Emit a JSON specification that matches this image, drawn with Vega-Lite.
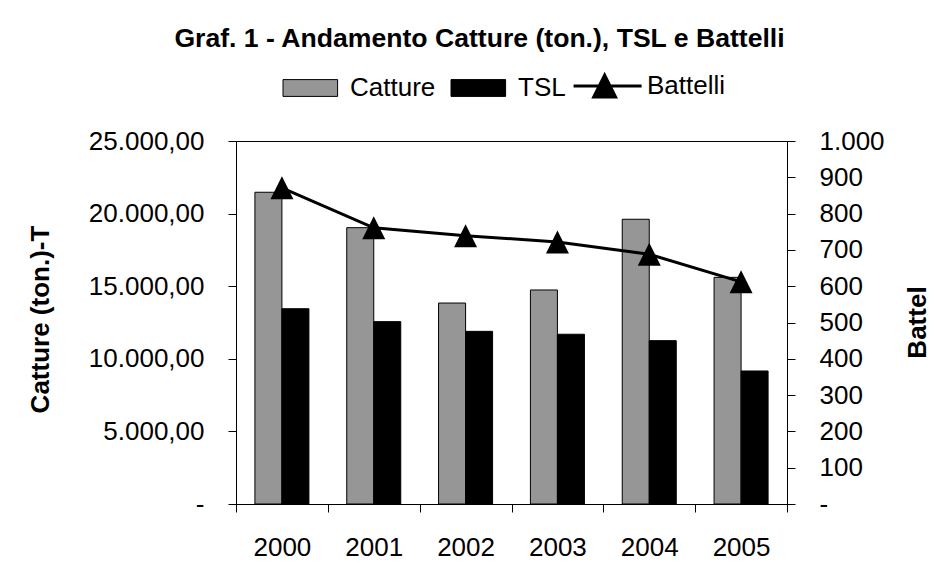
{
  "$schema": "https://vega.github.io/schema/vega-lite/v6.json",
  "width": 551,
  "height": 363,
  "autosize": "none",
  "padding": {"left": 236, "top": 141, "right": 153, "bottom": 78},
  "background": "white",
  "config": {
    "font": "Liberation Sans",
    "view": {"stroke": "black", "strokeWidth": 1},
    "axis": {
      "domainColor": "black", "tickColor": "black", "labelColor": "black", "titleColor": "black",
      "labelFont": "Liberation Sans", "titleFont": "Liberation Sans",
      "labelFontSize": 26, "titleFontSize": 26, "titleFontWeight": "bold",
      "labelFontWeight": "normal", "grid": false, "tickSize": 8, "domainWidth": 1, "tickWidth": 1
    }
  },
  "title": {
    "text": "Graf. 1 - Andamento Catture (ton.), TSL e Battelli",
    "font": "Liberation Sans", "fontSize": 26.6, "fontWeight": "bold", "color": "black",
    "anchor": "middle", "dx": -32, "offset": 20
  },
  "datasets": {
    "barre": [
      {"anno": "2000", "serie": "Catture", "valore": 21470},
      {"anno": "2000", "serie": "TSL", "valore": 13450},
      {"anno": "2001", "serie": "Catture", "valore": 19030},
      {"anno": "2001", "serie": "TSL", "valore": 12560},
      {"anno": "2002", "serie": "Catture", "valore": 13840},
      {"anno": "2002", "serie": "TSL", "valore": 11890},
      {"anno": "2003", "serie": "Catture", "valore": 14740},
      {"anno": "2003", "serie": "TSL", "valore": 11690},
      {"anno": "2004", "serie": "Catture", "valore": 19610},
      {"anno": "2004", "serie": "TSL", "valore": 11250},
      {"anno": "2005", "serie": "Catture", "valore": 15610},
      {"anno": "2005", "serie": "TSL", "valore": 9160}
    ],
    "battelli": [
      {"anno": "2000", "battelli": 871},
      {"anno": "2001", "battelli": 761},
      {"anno": "2002", "battelli": 739},
      {"anno": "2003", "battelli": 722},
      {"anno": "2004", "battelli": 688},
      {"anno": "2005", "battelli": 612}
    ]
  },
  "layer": [
    {
      "data": {"name": "barre"},
      "mark": {"type": "bar", "stroke": "black", "strokeWidth": 1},
      "encoding": {
        "x": {
          "field": "anno", "type": "nominal",
          "scale": {"paddingInner": 0, "paddingOuter": 0},
          "axis": {"title": null, "labelAngle": 0, "tickBand": "extent", "labelPadding": 22}
        },
        "xOffset": {
          "field": "serie", "type": "nominal",
          "scale": {"domain": ["Catture", "TSL"], "paddingInner": 0, "paddingOuter": 0.7}
        },
        "y": {
          "field": "valore", "type": "quantitative",
          "scale": {"domain": [0, 25000], "nice": false, "zero": true},
          "axis": {
            "title": "Catture (ton.)-T",
            "values": [0, 5000, 10000, 15000, 20000, 25000],
            "labelExpr": "datum.value == 0 ? '-' : format(datum.value / 1000, 'd') + '.000,00'",
            "labelPadding": 24,
            "titleAngle": -90, "titleX": -188, "titleY": 178, "titleBaseline": "alphabetic", "titleAlign": "center",
            "encode": {"labels": {"update": {"dx": {"signal": "datum.value == 0 ? -28 : 0"}}}}
          }
        },
        "color": {
          "field": "serie", "type": "nominal",
          "scale": {"domain": ["Catture", "TSL", "Battelli"], "range": ["#969696", "#000000", "#000000"]},
          "legend": {
            "title": null, "orient": "none", "direction": "horizontal",
            "legendX": 48, "legendY": -68, "padding": 0,
            "labelFont": "Liberation Sans", "labelFontSize": 26, "labelColor": "black",
            "labelOffset": 40, "columnPadding": 1, "symbolSize": 3136,
            "symbolStrokeColor": "black", "symbolOpacity": 1,
            "encode": {
              "symbols": {
                "update": {
                  "shape": {"signal": "datum.value === 'Battelli' ? 'M-0.73,0H1.7M0.38,-0.39L0.77,0.39L-0.01,0.39Z' : 'M-0.9,0L-0.9,0M-0.5,-0.3H1.45V0.3H-0.5Z'"},
                  "fill": {"signal": "datum.value === 'Catture' ? '#969696' : '#000000'"},
                  "stroke": {"value": "black"},
                  "strokeWidth": {"signal": "datum.value === 'Battelli' ? 3 : 1"},
                  "opacity": {"value": 1}
                }
              }
            }
          }
        }
      }
    },
    {
      "data": {"name": "battelli"},
      "mark": {
        "type": "line", "color": "black", "strokeWidth": 3,
        "point": {"shape": "M0,-1L1,1L-1,1Z", "size": 529, "filled": true, "color": "black", "opacity": 1}
      },
      "encoding": {
        "x": {"field": "anno", "type": "nominal"},
        "y": {
          "field": "battelli", "type": "quantitative",
          "scale": {"domain": [0, 1000], "nice": false, "zero": true},
          "axis": {
            "orient": "right",
            "title": "Battel",
            "values": [0, 100, 200, 300, 400, 500, 600, 700, 800, 900, 1000],
            "labelExpr": "datum.value == 0 ? '-' : (datum.value == 1000 ? '1.000' : format(datum.value, 'd'))",
            "labelPadding": 24,
            "titleAngle": -90, "titleX": 138, "titleY": 181, "titleBaseline": "alphabetic", "titleAlign": "center"
          }
        }
      }
    }
  ],
  "resolve": {"scale": {"y": "independent"}}
}
